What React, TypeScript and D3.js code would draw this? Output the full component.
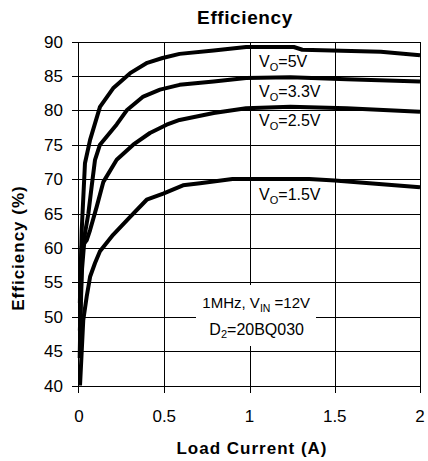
import React from "react";
import * as d3 from "d3";

const xTickValues = [0, 0.5, 1, 1.5, 2];
const xTickLabels = ["0", "0.5", "1", "1.5", "2"];
const yTickValues = [40, 45, 50, 55, 60, 65, 70, 75, 80, 85, 90];

const current5V = [0.005, 0.016, 0.035, 0.065, 0.123, 0.2, 0.3, 0.4, 0.49, 0.59, 0.79, 0.98, 1.26, 1.31, 1.77, 2.0];
const eff5V = [52, 62.6, 72.3, 75.7, 80.5, 83.2, 85.4, 86.9, 87.6, 88.2, 88.7, 89.2, 89.2, 88.8, 88.5, 88.0];

const current3V3 = [0.005, 0.018, 0.035, 0.055, 0.074, 0.094, 0.123, 0.221, 0.28, 0.377, 0.475, 0.59, 0.79, 0.98, 1.24, 1.57, 2.0];
const eff3V3 = [48, 57, 62.1, 65, 68.9, 72.8, 75, 77.95, 80.0, 82.0, 83.0, 83.7, 84.2, 84.7, 84.8, 84.5, 84.2];

const current2V5 = [0.004, 0.016, 0.045, 0.065, 0.104, 0.143, 0.221, 0.318, 0.416, 0.514, 0.59, 0.79, 0.98, 1.24, 1.57, 2.0];
const eff2V5 = [44, 60.2, 61.1, 62.6, 66, 69.6, 72.8, 75, 76.7, 77.9, 78.6, 79.6, 80.3, 80.5, 80.3, 79.8];

const current1V5 = [0.006, 0.025, 0.045, 0.065, 0.094, 0.123, 0.2, 0.3, 0.397, 0.494, 0.61, 0.71, 0.9, 1.06, 1.35, 1.5, 2.0];
const eff1V5 = [40, 49.5, 52.9, 55.8, 57.8, 59.5, 61.9, 64.5, 67.0, 67.9, 69.1, 69.4, 70.0, 70.0, 70.0, 69.8, 68.8];

const seriesLabels = ["5V", "3.3V", "2.5V", "1.5V"];
const labelEff = [86.3, 82.0, 77.7, 66.95];
const labelCurrent = 1.056;

const FONT = "'Liberation Sans', Arial, Helvetica, sans-serif";

export default function App() {
  const W = 428, H = 461;
  const x = d3.scaleLinear().domain([0, 2]).range([79, 420]);
  const y = d3.scaleLinear().domain([40, 90]).range([385.5, 41.5]);
  const px = (v: number) => Math.round(v);

  const series = [
    { c: current5V, e: eff5V },
    { c: current3V3, e: eff3V3 },
    { c: current2V5, e: eff2V5 },
    { c: current1V5, e: eff1V5 },
  ];

  const line = d3
    .line<[number, number]>()
    .x((d) => x(d[0]))
    .y((d) => y(d[1]));

  const left = px(x(0)) - 1;
  const right = px(x(2));
  const top = px(y(90));
  const bottom = px(y(40));

  return (
    <svg width={W} height={H} style={{ position: "absolute", left: 0, top: 0 }}>
      <rect x={0} y={0} width={W} height={H} fill="#fff" />
      {yTickValues.map((v) => (
        <rect key={"gy" + v} x={left - 6} y={px(y(v))} width={right - left + 7} height={1} fill="#000" />
      ))}
      {xTickValues.map((v) => (
        <rect key={"gx" + v} x={v === 0 ? left : px(x(v))} y={top} width={1} height={bottom - top + 7} fill="#000" />
      ))}
      <rect x={196} y={285} width={120} height={61} fill="#fff" />
      {series.map((s, k) => (
        <path
          key={"p" + k}
          d={line(s.c.map((c, i) => [c, s.e[i]] as [number, number])) || ""}
          fill="none"
          stroke="#000"
          strokeWidth={4}
          strokeLinejoin="round"
        />
      ))}
      {yTickValues.map((v) => (
        <text key={"ly" + v} x={63} y={y(v) + 6} textAnchor="end" fontSize={17} fontFamily={FONT} fill="#000">
          {v}
        </text>
      ))}
      {xTickValues.map((v, i) => (
        <text key={"lx" + v} x={x(v)} y={421.5} textAnchor="middle" fontSize={17} fontFamily={FONT} fill="#000">
          {xTickLabels[i]}
        </text>
      ))}
      <text x={310} y={307.5} textAnchor="end" fontSize={15} fontFamily={FONT} fill="#000">
        <tspan>1MHz, V</tspan>
        <tspan fontSize={10.5} dy={4}>IN</tspan>
        <tspan dy={-4}> =12V</tspan>
      </text>
      <text x={304} y={335} textAnchor="end" fontSize={16} fontFamily={FONT} fill="#000">
        <tspan>D</tspan>
        <tspan fontSize={11} dy={3}>2</tspan>
        <tspan dy={-3}>=20BQ030</tspan>
      </text>
      {seriesLabels.map((lab, k) => (
        <text key={"t" + k} x={x(labelCurrent)} y={y(labelEff[k])} fontSize={16} fontFamily={FONT} fill="#000">
          <tspan>V</tspan>
          <tspan fontSize={11} dy={4}>O</tspan>
          <tspan dy={-4}>={lab}</tspan>
        </text>
      ))}
      <text x={245} y={24} textAnchor="middle" fontSize={19} fontWeight="bold" fontFamily={FONT} letterSpacing={0.6} fill="#000">
        Efficiency
      </text>
      <text x={252} y={454} textAnchor="middle" fontSize={17} fontWeight="bold" fontFamily={FONT} letterSpacing={1} fill="#000">
        Load Current (A)
      </text>
      <text transform="translate(24,248) rotate(-90)" textAnchor="middle" fontSize={17} fontWeight="bold" fontFamily={FONT} letterSpacing={1} fill="#000">
        Efficiency (%)
      </text>
    </svg>
  );
}
